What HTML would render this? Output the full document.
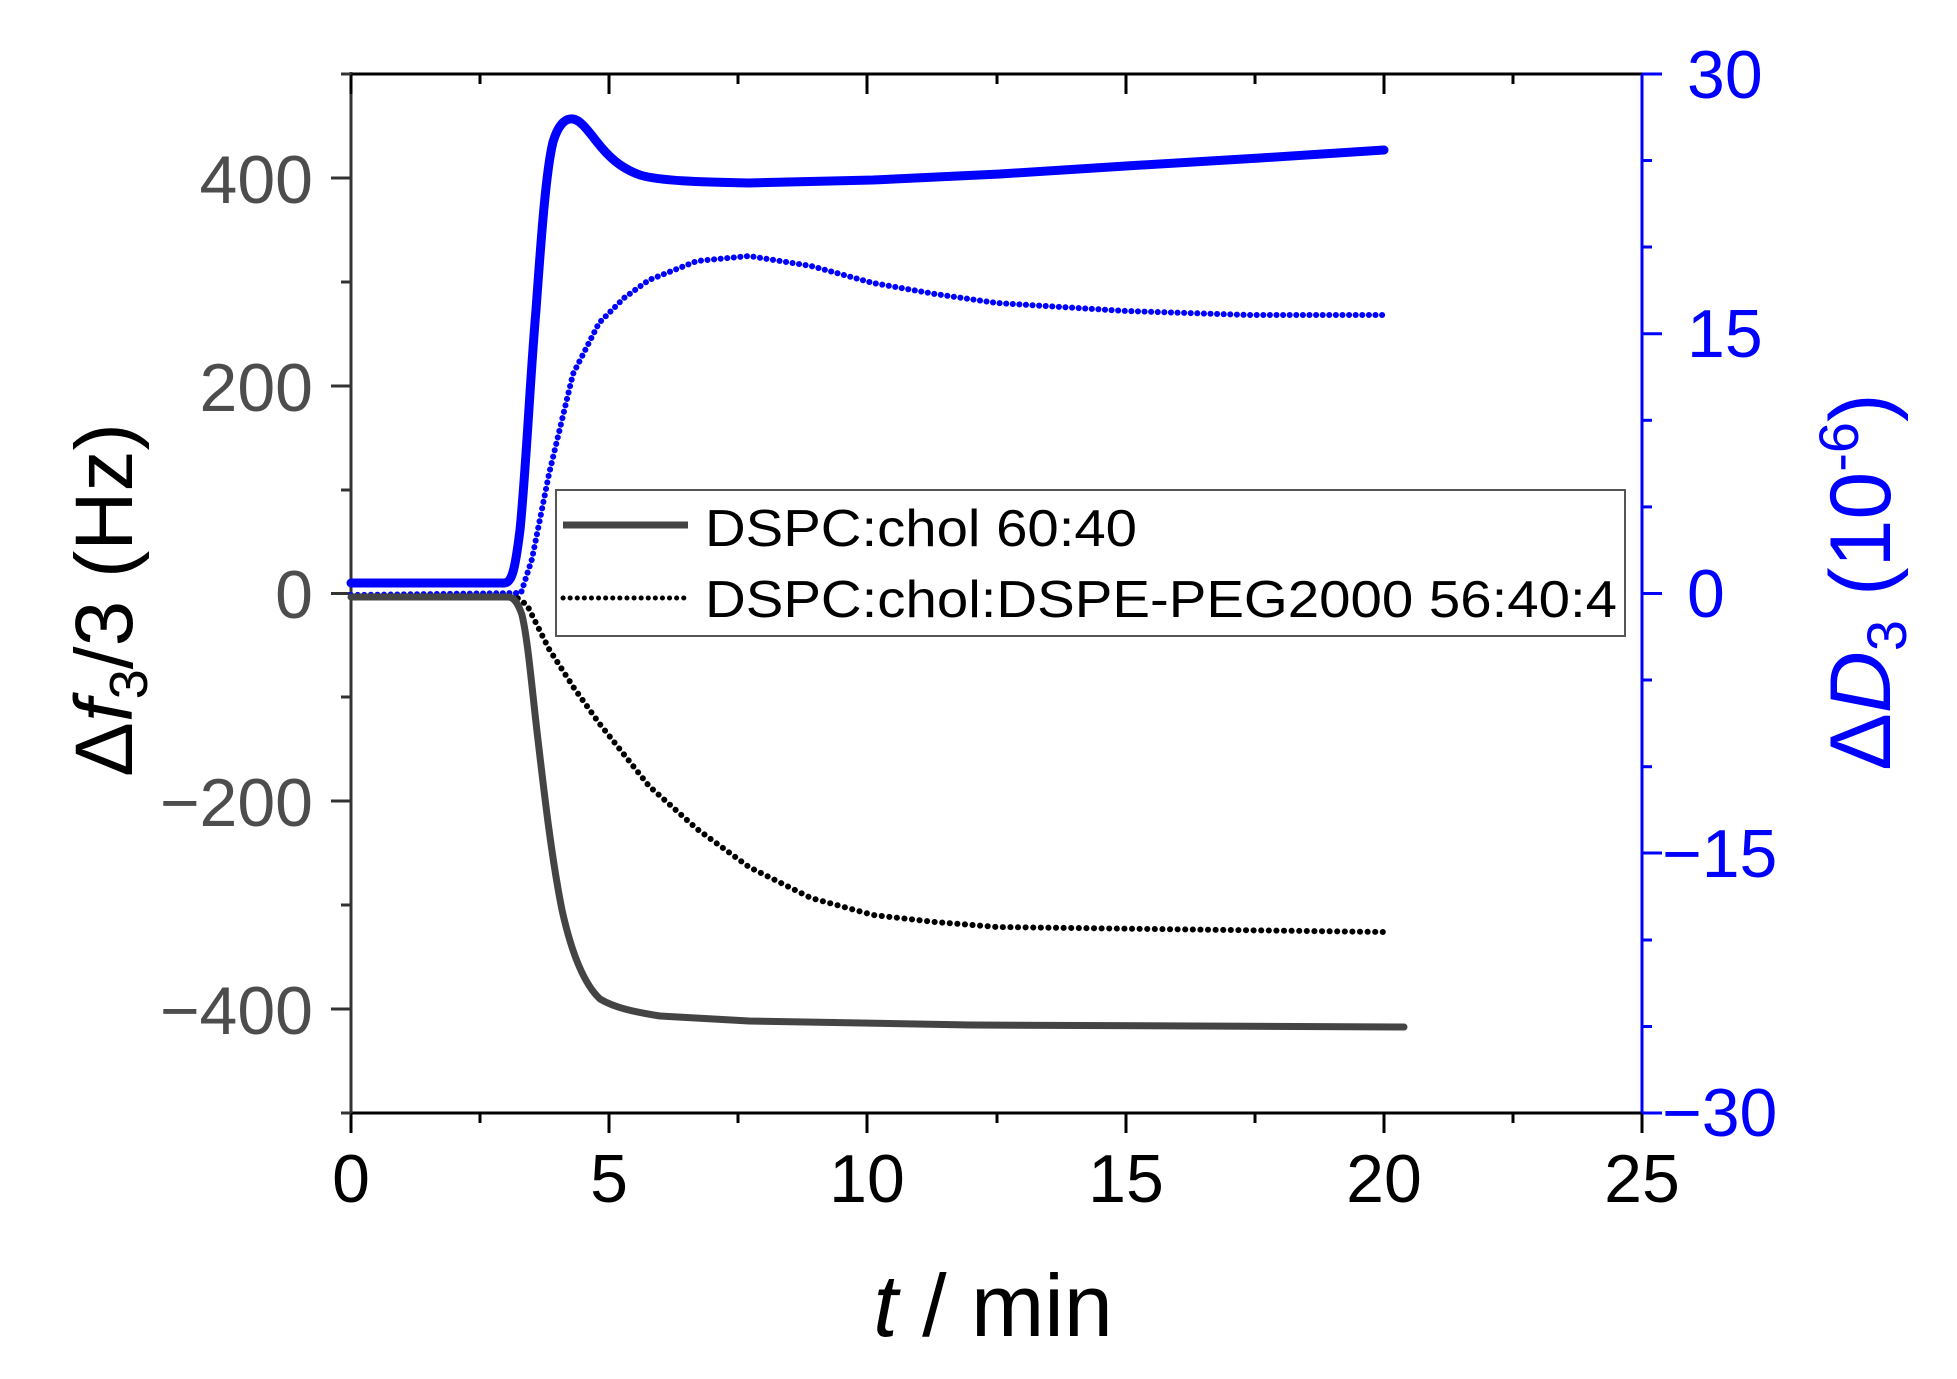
<!DOCTYPE html>
<html><head><meta charset="utf-8"><style>
html,body{margin:0;padding:0;background:#fff;}
svg{display:block;}
text{font-family:"Liberation Sans",Arial,sans-serif;}
</style></head><body>
<svg width="1957" height="1379" viewBox="0 0 1957 1379" xmlns="http://www.w3.org/2000/svg">
<rect width="1957" height="1379" fill="#fff"/>
<line x1="351" y1="74" x2="1642" y2="74" stroke="#000" stroke-width="3"/>
<line x1="351" y1="1113" x2="1642" y2="1113" stroke="#000" stroke-width="3"/>
<line x1="351" y1="72" x2="351" y2="1115" stroke="#333" stroke-width="3"/>
<line x1="1642" y1="74" x2="1642" y2="1113" stroke="#00f" stroke-width="3"/>
<g stroke="#000" stroke-width="3">
<line x1="351" y1="74" x2="351" y2="94"/><line x1="609" y1="74" x2="609" y2="94"/><line x1="867" y1="74" x2="867" y2="94"/><line x1="1126" y1="74" x2="1126" y2="94"/><line x1="1384" y1="74" x2="1384" y2="94"/>
<line x1="480" y1="74" x2="480" y2="84"/><line x1="738" y1="74" x2="738" y2="84"/><line x1="997" y1="74" x2="997" y2="84"/><line x1="1255" y1="74" x2="1255" y2="84"/><line x1="1513" y1="74" x2="1513" y2="84"/>
<line x1="351" y1="1113" x2="351" y2="1133"/><line x1="609" y1="1113" x2="609" y2="1133"/><line x1="867" y1="1113" x2="867" y2="1133"/><line x1="1126" y1="1113" x2="1126" y2="1133"/><line x1="1384" y1="1113" x2="1384" y2="1133"/><line x1="1642" y1="1113" x2="1642" y2="1133"/>
<line x1="480" y1="1113" x2="480" y2="1123"/><line x1="738" y1="1113" x2="738" y2="1123"/><line x1="997" y1="1113" x2="997" y2="1123"/><line x1="1255" y1="1113" x2="1255" y2="1123"/><line x1="1513" y1="1113" x2="1513" y2="1123"/>
</g>
<g stroke="#333" stroke-width="3">
<line x1="331" y1="178" x2="351" y2="178"/><line x1="331" y1="386" x2="351" y2="386"/><line x1="331" y1="593.5" x2="351" y2="593.5"/><line x1="331" y1="801" x2="351" y2="801"/><line x1="331" y1="1009" x2="351" y2="1009"/>
<line x1="341" y1="74" x2="351" y2="74"/><line x1="341" y1="282" x2="351" y2="282"/><line x1="341" y1="490" x2="351" y2="490"/><line x1="341" y1="697" x2="351" y2="697"/><line x1="341" y1="905" x2="351" y2="905"/><line x1="341" y1="1113" x2="351" y2="1113"/>
</g>
<g stroke="#00f" stroke-width="3">
<line x1="1642" y1="74" x2="1662" y2="74"/><line x1="1642" y1="333.7" x2="1662" y2="333.7"/><line x1="1642" y1="593.5" x2="1662" y2="593.5"/><line x1="1642" y1="853" x2="1662" y2="853"/><line x1="1642" y1="1113" x2="1662" y2="1113"/>
<line x1="1642" y1="160.5" x2="1652" y2="160.5"/><line x1="1642" y1="247" x2="1652" y2="247"/><line x1="1642" y1="420.3" x2="1652" y2="420.3"/><line x1="1642" y1="506.9" x2="1652" y2="506.9"/><line x1="1642" y1="680" x2="1652" y2="680"/><line x1="1642" y1="766.7" x2="1652" y2="766.7"/><line x1="1642" y1="940" x2="1652" y2="940"/><line x1="1642" y1="1026.5" x2="1652" y2="1026.5"/>
</g>
<g font-size="68" fill="#4d4d4d" text-anchor="end">
<text x="313" y="203">400</text><text x="313" y="411">200</text><text x="313" y="618">0</text><text x="313" y="826">−200</text><text x="313" y="1034">−400</text>
</g>
<g font-size="68" fill="#000" text-anchor="middle">
<text x="351" y="1202">0</text><text x="609" y="1202">5</text><text x="867" y="1202">10</text><text x="1126" y="1202">15</text><text x="1384" y="1202">20</text><text x="1642" y="1202">25</text>
</g>
<g font-size="68" fill="#00f">
<text x="1687" y="98">30</text><text x="1687" y="357">15</text><text x="1687" y="617">0</text><text x="1662" y="877">−15</text><text x="1662" y="1136">−30</text>
</g>
<text x="993" y="1336" font-size="88" text-anchor="middle" fill="#000"><tspan font-style="italic">t</tspan> / min</text>
<text transform="translate(132,600) rotate(-90)" font-size="82" text-anchor="middle" fill="#000">Δ<tspan font-style="italic">f</tspan><tspan font-size="54" dy="15">3</tspan><tspan dy="-15">/3 (Hz)</tspan></text>
<text transform="translate(1890,582) rotate(-90)" font-size="86" text-anchor="middle" fill="#00f">Δ<tspan font-style="italic">D</tspan><tspan font-size="56" dy="16">3</tspan><tspan dy="-16"> (10</tspan><tspan font-size="56" dy="-32">-6</tspan><tspan dy="32">)</tspan></text>
<g fill="none" stroke-linejoin="round" stroke-linecap="round">
<path d="M351,595 L521,593 L532,559 L549,474 L573,374 L599,323 L624,298 L649,280 L697,261 L749,256 L811,266 L873,283 L935,294 L997,303 L1126,311 L1250,315 L1384,315" stroke="#00f" stroke-width="6" stroke-dasharray="0.1 6.5"/>
<path d="M351,597 L516,597 L527,605 L549,649 L574,688 L599,723 L649,786 L697,829 L749,867 L811,898 L873,915 L935,922 L997,927 L1384,932" stroke="#000" stroke-width="6" stroke-dasharray="0.1 7.5"/>
<path d="M351,583 L504,583 C512,583 515,570 520,530 C526,470 530,380 536,310 C541,240 546,170 553,142 C559,122 567,118 573,119 C580,120 586,128 597,142 C608,156 620,168 640,175 C660,181 700,182 749,183 L873,180 L1000,174 L1126,166 L1260,158 L1384,150" stroke="#00f" stroke-width="9"/>
<path d="M351,597 L508,597 C514,597 518,603 522,615 C528,640 532,690 538,740 C545,800 552,860 562,910 C572,955 585,985 600,999 C615,1008 635,1012 660,1016 L749,1021 L971,1025 L1404,1027" stroke="#444" stroke-width="7"/>
</g>
<rect x="556" y="490" width="1069" height="146" fill="#fff" stroke="#555" stroke-width="2"/>
<line x1="563" y1="525" x2="688" y2="525" stroke="#444" stroke-width="7"/>
<line x1="563" y1="598" x2="688" y2="598" stroke="#000" stroke-width="5" stroke-dasharray="0.1 7" stroke-linecap="round"/>
<text x="705" y="546" font-size="52" fill="#000" textLength="432" lengthAdjust="spacingAndGlyphs">DSPC:chol 60:40</text>
<text x="705" y="617" font-size="52" fill="#000" textLength="912" lengthAdjust="spacingAndGlyphs">DSPC:chol:DSPE-PEG2000 56:40:4</text>
</svg>
</body></html>
